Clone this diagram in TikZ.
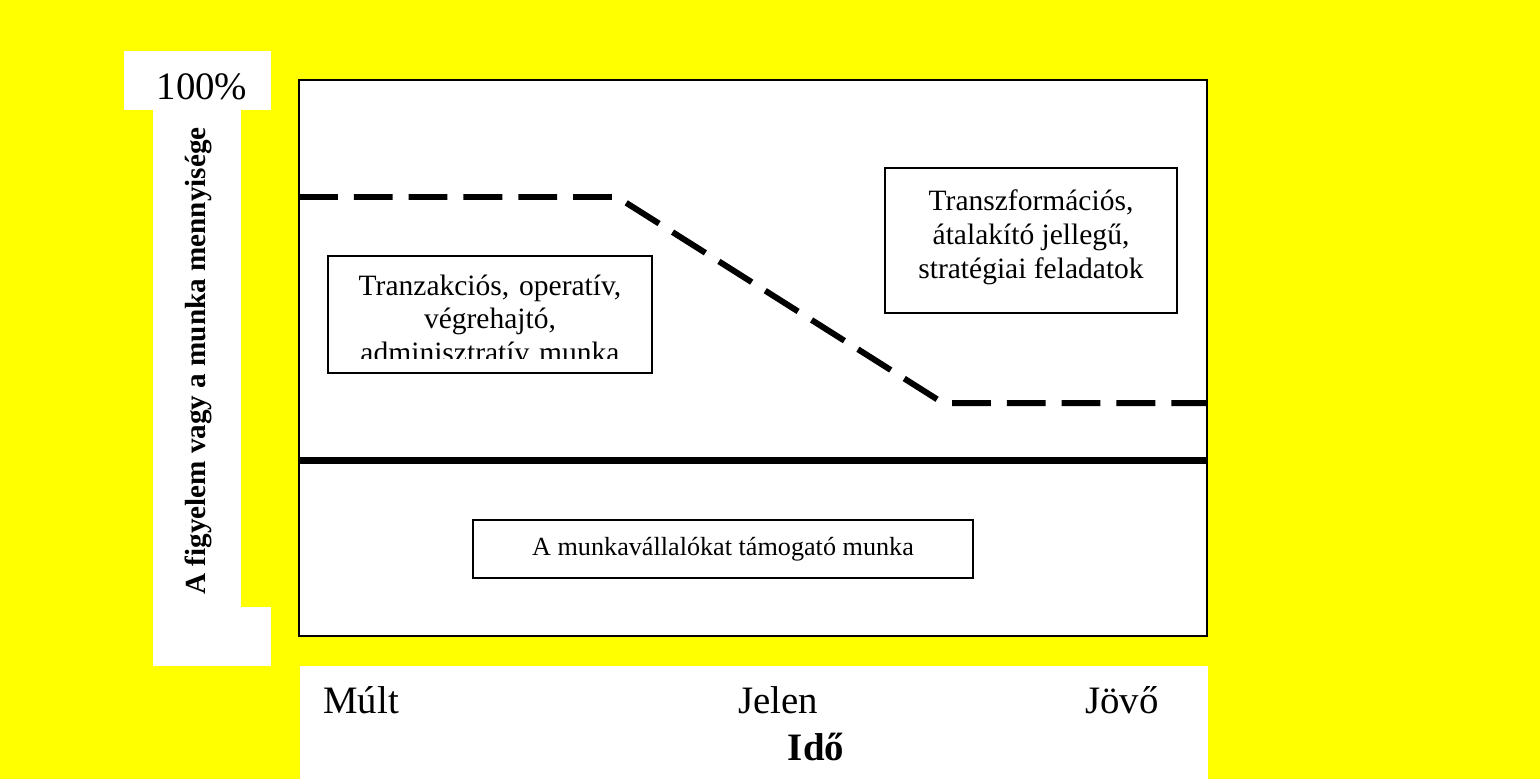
\documentclass[tikz,border=0pt]{standalone}
\usepackage{fontspec}
\setmainfont{Liberation Serif}
\frenchspacing
\definecolor{hatter}{RGB}{255,255,0}
\begin{document}
\begin{tikzpicture}[x=0.02cm, y=-0.02cm,
    box/.style={draw, line width=1.1pt, fill=white, inner sep=0pt},
    txt/.style={font=\fontsize{16.8}{19.3}\selectfont, align=center},
    kistxt/.style={font=\fontsize{14.9}{17.3}\selectfont, align=center},
    big/.style={font=\fontsize{22.1}{26}\selectfont, inner sep=0pt}]
    \useasboundingbox (0,0) rectangle (1540,779);
    \fill[hatter] (0,0) rectangle (1540,779);
    % white patches behind the axis titles
    \fill[white] (124,51) rectangle (271,110);
    \fill[white] (153,110) rectangle (241,607);
    \fill[white] (153,607) rectangle (271,666);
    \fill[white] (300,666) rectangle (1208,779);
    \draw[line width=1.3pt, fill=white] (299,80) rectangle (1207,636);

    \node[big, anchor=base] (szaz) at (202,99) {100\%};
    \node[inner sep=0pt, anchor=base, rotate=90, font=\fontsize{16.6}{19}\selectfont\bfseries] (figyelem) at (205,361) {A figyelem vagy a munka mennyisége};

    \coordinate (bal) at (299,197);
    \coordinate (tores1) at (617,197);
    \coordinate (tores2) at (943,403);
    \coordinate (jobb) at (1207,403);
    \draw[line width=3.4pt, dash pattern=on 22.1pt off 9.1pt] (bal) -- (tores1) -- (tores2) -- (jobb);
    \draw[line width=4pt] (299,460) -- (1207,460);

    \node[box, minimum width=324*0.02cm, minimum height=117*0.02cm] (tranz) at (490,314.5) {};
    \begin{scope}
        \clip (330,258) rectangle (650,358);
        \node[txt, text width=310*0.02cm, inner sep=0pt, anchor=base] (tranztxt) at (490,295) {Tranzakciós, operatív,\\ végrehajtó,\\ adminisztratív munka};
    \end{scope}
    \node[box, minimum width=292*0.02cm, minimum height=145*0.02cm] (transz) at (1031,240.5) {};
    \node[txt, inner sep=0pt] (transztxt) at (1031,237) {Transzformációs,\\ átalakító jellegű,\\ stratégiai feladatok};
    \node[box, kistxt, minimum width=500*0.02cm, minimum height=58*0.02cm] (tamogato) at (723,549) {A munkavállalókat támogató munka};

    \node[big, anchor=base west] (mult) at (323,713) {Múlt};
    \node[big, anchor=base west] (jelen) at (738,713) {Jelen};
    \node[big, anchor=base west] (jovo) at (1085,713) {Jövő};
    \node[big, anchor=base, font=\fontsize{22.1}{26}\selectfont\bfseries] (ido) at (816,760) {Idő};
\end{tikzpicture}
\end{document}
